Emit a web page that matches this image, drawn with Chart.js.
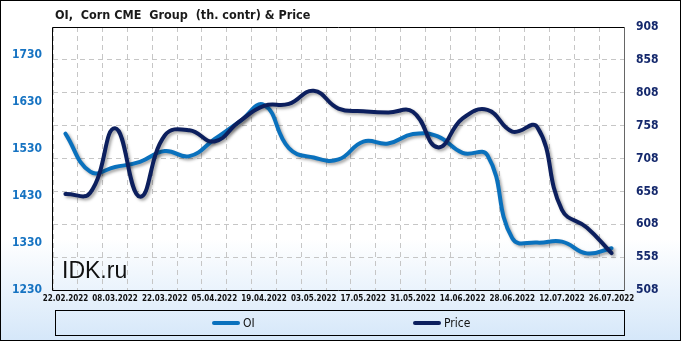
<!DOCTYPE html>
<html>
<head>
<meta charset="utf-8">
<script src="https://cdn.jsdelivr.net/npm/chart.js@4"></script>
<style>
  html, body { margin: 0; padding: 0; background: #fff; }
  #wrap { width: 681px; height: 341px; position: relative; }
  canvas { display: block; }
</style>
</head>
<body>
<div id="wrap"><canvas id="c" width="681" height="341"></canvas></div>
<script>
const titleText = 'OI,  Corn CME  Group  (th. contr) & Price';
const watermark = 'IDK.ru';
const dates = ['22.02.2022','01.03.2022','08.03.2022','15.03.2022','22.03.2022','29.03.2022','05.04.2022','12.04.2022','19.04.2022','26.04.2022','03.05.2022','10.05.2022','17.05.2022','24.05.2022','31.05.2022','07.06.2022','14.06.2022','21.06.2022','28.06.2022','05.07.2022','12.07.2022','19.07.2022','26.07.2022'];
const oiValues = [1563, 1482, 1492, 1503, 1526, 1515, 1551, 1588, 1624, 1532, 1512, 1508, 1546, 1542, 1562, 1557, 1522, 1517, 1340, 1331, 1333, 1308, 1319];
const priceValues = [654, 656, 754, 650, 743, 751, 734, 764, 788, 791, 811, 784, 780, 778, 779, 725, 769, 782, 749, 756, 630, 603, 564];
const leftTicks = [1230, 1330, 1430, 1530, 1630, 1730];
const rightTicks = [508, 558, 608, 658, 708, 758, 808, 858, 908];
const seriesNames = ['OI', 'Price'];

const OI_COLOR = '#0a71bd';
const PRICE_COLOR = '#0c1f5e';
const FONT = '"DejaVu Sans Condensed", "DejaVu Sans", sans-serif';

const decor = {
  id: 'decor',
  beforeDraw(chart) {
    const ctx = chart.ctx, W = chart.width, H = chart.height;
    ctx.save();
    const g = ctx.createLinearGradient(0, 0, 0, H);
    g.addColorStop(0, '#ffffff');
    g.addColorStop(0.70, '#ffffff');
    g.addColorStop(1, '#d5e7f9');
    ctx.fillStyle = g;
    ctx.fillRect(0, 0, W, H);
    ctx.restore();
  },
  beforeDatasetsDraw(chart) {
    const ctx = chart.ctx;
    ctx.save();
    ctx.font = '23px "Liberation Sans", Arial, sans-serif';
    ctx.fillStyle = '#111';
    ctx.textBaseline = 'alphabetic';
    ctx.fillText(watermark, 62, 278);
    ctx.restore();
  },
  afterDraw(chart) {
    const ctx = chart.ctx, a = chart.chartArea, W = chart.width, H = chart.height;
    ctx.save();
    ctx.lineWidth = 1;
    ctx.strokeStyle = '#000';
    ctx.beginPath();
    ctx.moveTo(Math.round(a.right) + 0.5, Math.round(a.top) + 0.5);
    ctx.lineTo(Math.round(a.left) - 0.5, Math.round(a.top) + 0.5);
    ctx.lineTo(Math.round(a.left) - 0.5, Math.round(a.bottom) + 0.5);
    ctx.lineTo(Math.round(a.right) + 0.5, Math.round(a.bottom) + 0.5);
    ctx.stroke();
    ctx.strokeStyle = '#666';
    ctx.beginPath();
    ctx.moveTo(Math.round(a.right) + 0.5, Math.round(a.top) + 0.5);
    ctx.lineTo(Math.round(a.right) + 0.5, Math.round(a.bottom) + 0.5);
    ctx.stroke();
    ctx.strokeStyle = '#000';
    ctx.strokeRect(0.5, 0.5, W - 1, H - 1);
    // title
    ctx.font = 'bold 12.5px ' + FONT;
    ctx.fillStyle = '#1a1a1a';
    ctx.textBaseline = 'alphabetic';
    ctx.fillText(titleText, 55, 19);
    // legend
    ctx.strokeStyle = '#000';
    ctx.lineWidth = 1;
    ctx.strokeRect(55.5, 310.5, 569, 25);
    const items = [
      { label: chart.data.datasets[0].label, color: chart.data.datasets[0].borderColor, x: 212 },
      { label: chart.data.datasets[1].label, color: chart.data.datasets[1].borderColor, x: 413 }
    ];
    ctx.font = '12px ' + FONT;
    ctx.textBaseline = 'middle';
    items.forEach(it => {
      ctx.strokeStyle = it.color;
      ctx.lineWidth = 4;
      ctx.lineCap = 'round';
      ctx.beginPath();
      ctx.moveTo(it.x + 2, 323);
      ctx.lineTo(it.x + 26, 323);
      ctx.stroke();
      ctx.fillStyle = '#111';
      ctx.fillText(it.label, it.x + 31, 323.5);
    });
    ctx.restore();
  }
};

const shadow = {
  id: 'shadow',
  beforeDatasetDraw(chart) {
    const ctx = chart.ctx;
    ctx.save();
    ctx.shadowColor = 'rgba(0,0,0,0.35)';
    ctx.shadowBlur = 3;
    ctx.shadowOffsetX = 2;
    ctx.shadowOffsetY = 2;
  },
  afterDatasetDraw(chart) {
    chart.ctx.restore();
  }
};

new Chart(document.getElementById('c'), {
  type: 'line',
  data: {
    labels: dates,
    datasets: [
      {
        label: seriesNames[0], data: oiValues, yAxisID: 'y',
        borderColor: OI_COLOR, backgroundColor: OI_COLOR,
        borderWidth: 4, pointRadius: 0, tension: 0.45,
        borderCapStyle: 'round', borderJoinStyle: 'round', order: 1
      },
      {
        label: seriesNames[1], data: priceValues, yAxisID: 'y2',
        borderColor: PRICE_COLOR, backgroundColor: PRICE_COLOR,
        borderWidth: 4, pointRadius: 0, tension: 0.45,
        borderCapStyle: 'round', borderJoinStyle: 'round', order: 0
      }
    ]
  },
  options: {
    responsive: false,
    animation: false,
    events: [],
    layout: { padding: { top: 27, bottom: 35, left: 0, right: 0 } },
    plugins: { legend: { display: false }, title: { display: false }, tooltip: { enabled: false } },
    scales: {
      x: {
        type: 'category',
        offset: true,
        grid: { display: true, offset: true, color: '#c6c6c6', lineWidth: 1, drawTicks: false },
        border: { display: false, dash: [5, 4] },
        ticks: {
          autoSkip: false, maxRotation: 0, minRotation: 0, padding: 4,
          color: '#111', font: { family: FONT, size: 8, weight: 'bold' },
          callback: function(v, i) { return i % 2 === 0 ? dates[i] : ''; }
        },
        afterFit(s) { s.height = 16; }
      },
      y: {
        position: 'left', min: 1230, max: 1790,
        grid: { display: false, drawTicks: false },
        border: { display: false },
        afterBuildTicks(s) { s.ticks = leftTicks.map(v => ({ value: v })); },
        ticks: { padding: 11, color: '#1673c2', font: { family: FONT, size: 12, weight: 'bold' },
          callback: v => String(v) },
        afterFit(s) { s.width = 53; }
      },
      y2: {
        position: 'right', min: 508, max: 908,
        grid: { display: true, color: '#c6c6c6', lineWidth: 1, drawTicks: false },
        border: { display: false, dash: [5, 4] },
        afterBuildTicks(s) { s.ticks = rightTicks.map(v => ({ value: v })); },
        ticks: { padding: 12, color: '#14286c', font: { family: FONT, size: 12, weight: 'bold' },
          callback: v => String(v) },
        afterFit(s) { s.width = 57; }
      }
    }
  },
  plugins: [decor, shadow]
});
</script>
</body>
</html>
